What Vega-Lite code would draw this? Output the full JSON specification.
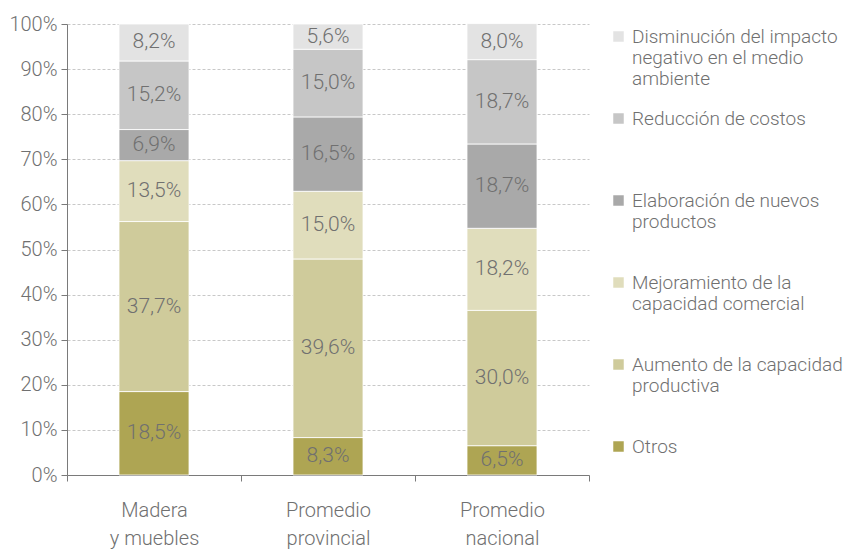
{
  "$schema": "https://vega.github.io/schema/vega-lite/v6.json",
  "width": 522,
  "height": 451,
  "padding": {"left": 8, "top": 14, "right": 2, "bottom": 2},
  "config": {
    "locale": {"number": {"decimal": ",", "thousands": ".", "grouping": [3], "currency": ["", " €"]}},
    "view": {"stroke": null},
    "font": "Roboto, sans-serif"
  },
  "data": {
    "values": [
      {"cat": "Madera|y muebles", "serie": "Otros", "ord": 1, "value": 0.185},
      {"cat": "Madera|y muebles", "serie": "Aumento de la capacidad productiva", "ord": 2, "value": 0.377},
      {"cat": "Madera|y muebles", "serie": "Mejoramiento de la capacidad comercial", "ord": 3, "value": 0.135},
      {"cat": "Madera|y muebles", "serie": "Elaboración de nuevos productos", "ord": 4, "value": 0.069},
      {"cat": "Madera|y muebles", "serie": "Reducción de costos", "ord": 5, "value": 0.152},
      {"cat": "Madera|y muebles", "serie": "Disminución del impacto negativo en el medio ambiente", "ord": 6, "value": 0.082},
      {"cat": "Promedio|provincial", "serie": "Otros", "ord": 1, "value": 0.083},
      {"cat": "Promedio|provincial", "serie": "Aumento de la capacidad productiva", "ord": 2, "value": 0.396},
      {"cat": "Promedio|provincial", "serie": "Mejoramiento de la capacidad comercial", "ord": 3, "value": 0.150},
      {"cat": "Promedio|provincial", "serie": "Elaboración de nuevos productos", "ord": 4, "value": 0.165},
      {"cat": "Promedio|provincial", "serie": "Reducción de costos", "ord": 5, "value": 0.150},
      {"cat": "Promedio|provincial", "serie": "Disminución del impacto negativo en el medio ambiente", "ord": 6, "value": 0.056},
      {"cat": "Promedio|nacional", "serie": "Otros", "ord": 1, "value": 0.065},
      {"cat": "Promedio|nacional", "serie": "Aumento de la capacidad productiva", "ord": 2, "value": 0.300},
      {"cat": "Promedio|nacional", "serie": "Mejoramiento de la capacidad comercial", "ord": 3, "value": 0.182},
      {"cat": "Promedio|nacional", "serie": "Elaboración de nuevos productos", "ord": 4, "value": 0.187},
      {"cat": "Promedio|nacional", "serie": "Reducción de costos", "ord": 5, "value": 0.187},
      {"cat": "Promedio|nacional", "serie": "Disminución del impacto negativo en el medio ambiente", "ord": 6, "value": 0.080}
    ]
  },
  "transform": [
    {"stack": "value", "groupby": ["cat"], "sort": [{"field": "ord", "order": "ascending"}], "as": ["y0", "y1"]},
    {"calculate": "(datum.y0 + datum.y1) / 2", "as": "ymid"}
  ],
  "encoding": {
    "x": {
      "field": "cat", "type": "nominal", "sort": null, "title": null,
      "scale": {"paddingInner": 0, "paddingOuter": 0},
      "axis": {
        "labelExpr": "split(datum.label, '|')",
        "labelAngle": 0, "labelFontSize": 20, "labelFontWeight": 300, "labelColor": "#707070", "labelPadding": 19,
        "labelLineHeight": 28,
        "domainColor": "#7a7a7a", "tickColor": "#7a7a7a", "tickBand": "extent", "tickSize": 6,
        "grid": false
      }
    },
    "y": {
      "field": "y0", "type": "quantitative", "title": null,
      "scale": {"domain": [0, 1]},
      "axis": {
        "format": "%", "values": [0,0.1,0.2,0.3,0.4,0.5,0.6,0.7,0.8,0.9,1],
        "labelOverlap": false,
        "labelFontSize": 20, "labelFontWeight": 300, "labelColor": "#707070", "labelPadding": 4,
        "domainColor": "#7a7a7a", "tickColor": "#7a7a7a", "tickSize": 6,
        "gridColor": "#c8c8c8", "gridDash": [3, 2], "gridWidth": 1
      }
    }
  },
  "layer": [
    {
      "mark": {"type": "bar", "width": 70, "stroke": "white", "strokeWidth": 0.8},
      "encoding": {
        "y2": {"field": "y1"},
        "color": {
          "field": "serie", "type": "nominal", "title": null,
          "scale": {
            "domain": [
              "Disminución del impacto negativo en el medio ambiente",
              "Reducción de costos",
              "Elaboración de nuevos productos",
              "Mejoramiento de la capacidad comercial",
              "Aumento de la capacidad productiva",
              "Otros"
            ],
            "range": ["#e3e3e3", "#c6c6c6", "#a9a9a9", "#e0ddbc", "#cfcb9b", "#aea553"]
          },
          "legend": {
            "orient": "right", "offset": 17,
            "symbolType": "square", "symbolSize": 110, "symbolStrokeWidth": 0,
            "labelFontSize": 19, "labelFontWeight": 300, "labelColor": "#707070", "labelLimit": 300,
            "labelLineHeight": 22, "labelOffset": 4, "rowPadding": 20, "padding": 3,
            "labelExpr": "datum.label == 'Disminución del impacto negativo en el medio ambiente' ? ['Disminución  del impacto', 'negativo en el medio', 'ambiente'] : datum.label == 'Reducción de costos' ? ['Reducción de costos', ' ', ' '] : datum.label == 'Elaboración de nuevos productos' ? ['Elaboración  de nuevos', 'productos', ' '] : datum.label == 'Mejoramiento de la capacidad comercial' ? ['Mejoramiento de la', 'capacidad comercial', ' '] : datum.label == 'Aumento de la capacidad productiva' ? ['Aumento de la capacidad', 'productiva', ' '] : ['Otros', ' ', ' ']"
          }
        }
      }
    },
    {
      "mark": {"type": "text", "fontSize": 21, "fontWeight": 300, "color": "#707070"},
      "encoding": {
        "y": {"field": "ymid", "type": "quantitative"},
        "text": {"field": "value", "type": "quantitative", "format": ".1%"}
      }
    }
  ]
}
